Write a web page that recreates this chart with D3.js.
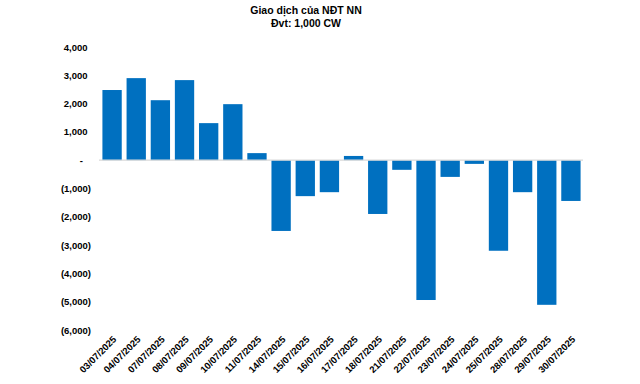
<!DOCTYPE html>
<html>
<head>
<meta charset="utf-8">
<script src="https://cdn.jsdelivr.net/npm/d3@7"></script>
<style>
  body { margin: 0; background: #fff; }
  text { font-family: "Liberation Sans", Arial, sans-serif; font-weight: bold; fill: #000; }
</style>
</head>
<body>
<svg id="chart"></svg>
<script>
// data
const dates = [
    "03/07/2025", "04/07/2025", "07/07/2025", "08/07/2025", "09/07/2025",
    "10/07/2025", "11/07/2025", "14/07/2025", "15/07/2025", "16/07/2025",
    "17/07/2025", "18/07/2025", "21/07/2025", "22/07/2025", "23/07/2025",
    "24/07/2025", "25/07/2025", "28/07/2025", "29/07/2025", "30/07/2025"
]
const values = [
    2480, 2900, 2120, 2830, 1310,
    1980, 250, -2500, -1270, -1130,
    150, -1900, -340, -4940, -590,
    -130, -3200, -1130, -5110, -1440
]
const yTicks = [4000, 3000, 2000, 1000, 0, -1000, -2000, -3000, -4000, -5000, -6000]
const titleLines = ["Giao dịch của NĐT NN", "Đvt: 1,000 CW"]

const width = 640
const height = 384
const margin = { top: 47, right: 57, bottom: 54, left: 100 }

const svg = d3.select('#chart')
    .attr('width', width)
    .attr('height', height)

// title
svg.append('g')
    .selectAll('text')
    .data(titleLines)
    .enter()
    .append('text')
    .attr('x', 306)
    .attr('y', (d, i) => 14 + i * 13)
    .attr('text-anchor', 'middle')
    .attr('font-size', 10.5)
    .text(d => d)

// scales
const xScale = d3.scaleBand()
    .domain(dates)
    .range([margin.left, width - margin.right])
    .paddingInner(0.2)
    .paddingOuter(0.1)

const yScale = d3.scaleLinear()
    .domain([-6000, 4000])
    .range([height - margin.bottom, margin.top])

// y axis labels, accounting style
const fmt = d3.format(',')
const yAxis = d3.axisLeft(yScale)
    .tickValues(yTicks)
    .tickSize(0)
    .tickPadding(0)
    .tickFormat(d => d === 0 ? '-' : d < 0 ? '(' + fmt(-d) + ')' : fmt(d))

const yG = svg.append('g')
    .attr('transform', `translate(${91}, 0)`)
    .call(yAxis)
yG.select('.domain').remove()
yG.selectAll('.tick text')
    .attr('font-size', 9.5)
    .attr('font-family', '"Liberation Sans", Arial, sans-serif')
    .attr('font-weight', 'bold')
    .attr('fill', '#000')
    .attr('x', d => d === 0 ? -8 : d > 0 ? -3.5 : 0)

// bars
svg.append('g')
    .selectAll('rect')
    .data(values)
    .enter()
    .append('rect')
    .attr('x', (d, i) => xScale(dates[i]))
    .attr('y', d => yScale(Math.max(0, d)))
    .attr('width', xScale.bandwidth())
    .attr('height', d => Math.abs(yScale(d) - yScale(0)))
    .attr('fill', '#0070c0')

// zero line
svg.append('line')
    .attr('x1', margin.left - 1)
    .attr('x2', width - margin.right)
    .attr('y1', yScale(0))
    .attr('y2', yScale(0))
    .attr('stroke', '#d9d9d9')
    .attr('stroke-width', 1.2)

// x labels
svg.append('g')
    .selectAll('text')
    .data(dates)
    .enter()
    .append('text')
    .attr('transform', d => `translate(${xScale(d) + xScale.bandwidth() / 2 + 5}, ${340}) rotate(-45)`)
    .attr('text-anchor', 'end')
    .attr('font-size', 9.5)
    .text(d => d)
</script>
</body>
</html>
